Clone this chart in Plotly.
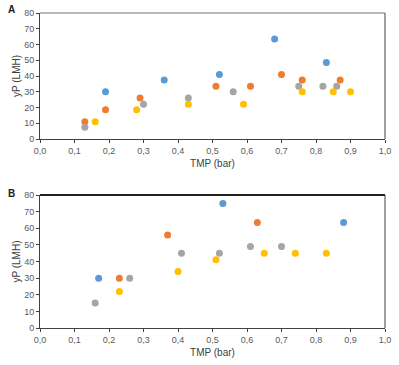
import plotly.graph_objects as go
from plotly.subplots import make_subplots

# Panel A data
a_blue_x = [0.19, 0.36, 0.52, 0.68, 0.83]
a_blue_y = [30, 37.5, 41, 63.5, 48.5]
a_orange_x = [0.13, 0.19, 0.29, 0.51, 0.61, 0.70, 0.76, 0.87]
a_orange_y = [11, 18.5, 26, 33.5, 33.5, 41, 37.5, 37.5]
a_gray_x = [0.13, 0.30, 0.43, 0.56, 0.75, 0.82, 0.86]
a_gray_y = [7.5, 22, 26, 30, 33.5, 33.5, 33.5]
a_yellow_x = [0.16, 0.28, 0.43, 0.59, 0.76, 0.85, 0.90]
a_yellow_y = [11, 18.5, 22, 22, 30, 30, 30]

# Panel B data
b_blue_x = [0.17, 0.53, 0.88]
b_blue_y = [30, 75, 63.5]
b_orange_x = [0.23, 0.37, 0.63]
b_orange_y = [30, 56, 63.5]
b_gray_x = [0.16, 0.26, 0.41, 0.52, 0.61, 0.70]
b_gray_y = [15, 30, 45, 45, 49, 49]
b_yellow_x = [0.23, 0.40, 0.51, 0.65, 0.74, 0.83]
b_yellow_y = [22, 34, 41, 45, 45, 45]

colors = {"blue": "#5B9BD5", "orange": "#ED7D31", "gray": "#A5A5A5", "yellow": "#FFC000"}

fig = make_subplots(rows=2, cols=1, vertical_spacing=0.178, row_heights=[0.6, 0.4])

def add(x, y, c, row):
    fig.add_trace(go.Scatter(x=x, y=y, mode="markers",
                             marker=dict(color=colors[c], size=7),
                             showlegend=False, hoverinfo="skip"), row=row, col=1)

for c, x, y in [("blue", a_blue_x, a_blue_y), ("orange", a_orange_x, a_orange_y),
                ("gray", a_gray_x, a_gray_y), ("yellow", a_yellow_x, a_yellow_y)]:
    add(x, y, c, 1)
for c, x, y in [("blue", b_blue_x, b_blue_y), ("orange", b_orange_x, b_orange_y),
                ("gray", b_gray_x, b_gray_y), ("yellow", b_yellow_x, b_yellow_y)]:
    add(x, y, c, 2)

tickfont = dict(family="Liberation Sans, Arial", size=9, color="#595959")
titlefont = dict(family="Liberation Sans, Arial", size=10, color="#404040")

fig.update_layout(
    width=399, height=365,
    margin=dict(l=40, r=10, t=8, b=37),
    paper_bgcolor="white", plot_bgcolor="white",
    separators=",.",
)
fig.update_yaxes(domain=[0.6, 1.0], row=1, col=1)
fig.update_yaxes(domain=[0.0, 0.422], row=2, col=1)

for r in (1, 2):
    fig.update_xaxes(range=[0, 1.0], dtick=0.1, tickformat=".1f", showgrid=False, zeroline=False,
                     showline=True, linecolor="#404040", linewidth=1, ticks="outside", ticklen=3,
                     tickcolor="#404040", tickfont=tickfont,
                     title=dict(text="TMP (bar)", font=titlefont, standoff=5), row=r, col=1)
    fig.update_yaxes(range=[0, 80], dtick=10, showgrid=False, zeroline=False,
                     showline=True, linecolor="#404040", linewidth=1, ticks="outside", ticklen=3,
                     tickcolor="#404040", tickfont=tickfont,
                     title=dict(text="yP (LMH)", font=titlefont, standoff=1), row=r, col=1)

# frame lines (top / right)
fig.add_shape(type="line", xref="x domain", yref="y domain", x0=0, x1=1, y0=1, y1=1,
              line=dict(color="#a0a0a0", width=1.5))
fig.add_shape(type="line", xref="x domain", yref="y domain", x0=1, x1=1, y0=0, y1=1,
              line=dict(color="#404040", width=1))
fig.add_shape(type="line", xref="x2 domain", yref="y2 domain", x0=0, x1=1, y0=1, y1=1,
              line=dict(color="#202020", width=2))
fig.add_shape(type="line", xref="x2 domain", yref="y2 domain", x0=1, x1=1, y0=0, y1=1,
              line=dict(color="#404040", width=1))

fig.add_annotation(text="<b>A</b>", xref="paper", yref="paper", x=-0.1, y=1.012,
                   xanchor="left", yanchor="middle", showarrow=False,
                   font=dict(family="Liberation Sans, Arial", size=10, color="#202020"))
fig.add_annotation(text="<b>B</b>", xref="paper", yref="paper", x=-0.1, y=0.428,
                   xanchor="left", yanchor="middle", showarrow=False,
                   font=dict(family="Liberation Sans, Arial", size=10, color="#202020"))

fig.write_html("out.html")
